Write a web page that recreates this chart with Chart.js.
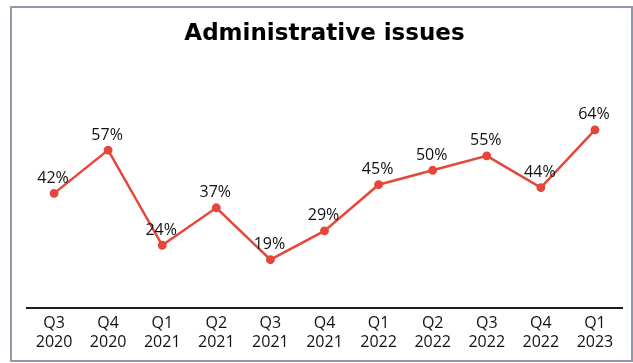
<!DOCTYPE html>
<html>
<head>
<meta charset="utf-8">
<script src="https://cdn.jsdelivr.net/npm/chart.js@4"></script>
<style>
  html, body { margin: 0; padding: 0; background: #fff; }
  #frame {
    position: absolute; left: 10px; top: 6px;
    width: 619px; height: 352px;
    border: 2px solid #8e99a5;
  }
  #wrap { position: absolute; left: 0; top: 0; width: 633px; height: 363px; }
</style>
</head>
<body>
<div id="frame"></div>
<div id="wrap"><canvas id="issuesChart" width="633" height="363"></canvas></div>
<script>
const quarters = ["Q3", "Q4", "Q1", "Q2", "Q3", "Q4", "Q1", "Q2", "Q3", "Q4", "Q1"];
const years = ["2020", "2020", "2021", "2021", "2021", "2021", "2022", "2022", "2022", "2022", "2023"];
const shares = [42, 57, 24, 37, 19, 29, 45, 50, 55, 44, 64];

const lineColor = "#e5473b";

// percent labels above each point
const pointLabels = {
    id: "pointLabels",
    afterDatasetsDraw(chart) {
        const ctx = chart.ctx;
        const meta = chart.getDatasetMeta(0);
        ctx.save();
        ctx.font = "16px 'Open Sans'";
        ctx.fillStyle = "#111";
        ctx.textAlign = "center";
        ctx.textBaseline = "middle";
        meta.data.forEach((pt, i) => {
            ctx.fillText(shares[i] + "%", pt.x - 1, pt.y - 15);
        });
        ctx.restore();
    }
};

const ctx = document.getElementById("issuesChart").getContext("2d");

new Chart(ctx, {
    type: "line",
    data: {
        labels: quarters.map((q, i) => [q, years[i]]),
        datasets: [{
            data: shares,
            borderColor: lineColor,
            backgroundColor: lineColor,
            borderWidth: 2.5,
            pointRadius: 3.2,
            pointHoverRadius: 3.2,
            tension: 0,
            fill: false
        }]
    },
    options: {
        responsive: false,
        animation: false,
        layout: { padding: { left: 27, right: 11, top: 0, bottom: 5 } },
        plugins: {
            legend: { display: false },
            tooltip: { enabled: false },
            title: {
                display: true,
                text: "Administrative issues",
                color: "#000",
                font: { family: "DejaVu Sans, Verdana, sans-serif", size: 23, weight: "bold" },
                padding: { top: 20, bottom: 65 }
            }
        },
        scales: {
            x: {
                offset: true,
                grid: { display: false, drawTicks: false },
                border: { display: true, color: "#1e1e1e", width: 2 },
                ticks: {
                    color: "#111",
                    padding: 6,
                    maxRotation: 0,
                    autoSkip: false,
                    font: { family: "'Open Sans'", size: 16, lineHeight: 1.2 }
                }
            },
            y: {
                display: false,
                min: 2.4,
                max: 70
            }
        }
    },
    plugins: [pointLabels]
});
</script>
</body>
</html>
